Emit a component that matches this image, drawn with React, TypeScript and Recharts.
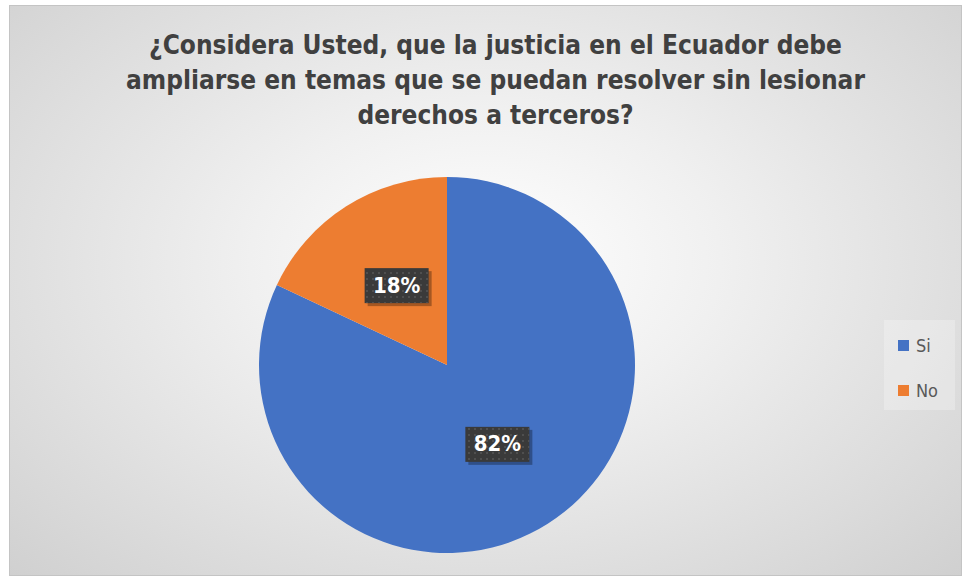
import React from "react";
import { PieChart, Pie, Cell, Legend } from "recharts";

const categories = ["Si", "No"];
const values = [82, 18];
const colors = ["#4472C4", "#ED7D31"];
const titleLines = [
  "¿Considera Usted, que la justicia en el Ecuador debe",
  "ampliarse en temas que se puedan resolver sin lesionar",
  "derechos a terceros?",
];

const data = categories.map((name, i) => ({ name, value: values[i] }));

const FONT = "'DejaVu Sans Condensed', 'Open Sans', sans-serif";
const RAD = Math.PI / 180;

const renderLabel = (props: any) => {
  const { cx, cy, midAngle, outerRadius, value } = props;
  const r = outerRadius * 0.5;
  const x = cx + r * Math.cos(-midAngle * RAD);
  const y = cy + r * Math.sin(-midAngle * RAD);
  const w = 64;
  const h = 35;
  return (
    <g>
      <rect x={x - w / 2 + 3} y={y - h / 2 + 3} width={w} height={h} fill="rgba(0,0,0,0.3)" />
      <rect x={x - w / 2} y={y - h / 2} width={w} height={h} fill="#3a3a3a" />
      <rect x={x - w / 2} y={y - h / 2} width={w} height={h} fill="url(#dots)" />
      <text
        x={x}
        y={y + 1}
        fill="#ffffff"
        textAnchor="middle"
        dominantBaseline="middle"
        fontFamily={FONT}
        fontWeight="bold"
        fontSize={22}
      >
        {`${value}%`}
      </text>
    </g>
  );
};

const renderLegend = () => (
  <div
    style={{
      background: "rgba(255,255,255,0.25)",
      width: 71,
      height: 90,
      boxSizing: "border-box",
      padding: "14px 0 0 14px",
      fontFamily: FONT,
      fontSize: 18,
      color: "#595959",
    }}
  >
    {categories.map((c, i) => (
      <div key={c} style={{ display: "flex", alignItems: "center", height: 22, marginBottom: i === 0 ? 23 : 0 }}>
        <span style={{ display: "inline-block", width: 11, height: 11, background: colors[i], marginRight: 7 }} />
        <span>{c}</span>
      </div>
    ))}
  </div>
);

export default function App() {
  return (
    <div style={{ position: "absolute", left: 0, top: 0, width: 966, height: 579, background: "#ffffff" }}>
      <div
        style={{
          position: "absolute",
          left: 9,
          top: 5,
          width: 953,
          height: 571,
          background: "radial-gradient(ellipse at 50% 45%, #ffffff 0%, #f0f0f0 35%, #d0d0d0 100%)",
          border: "1px solid #c4c4c4",
          boxSizing: "border-box",
        }}
      >
        <div
          style={{
            position: "absolute",
            left: 10,
            top: 22,
            width: 951,
            textAlign: "center",
            fontFamily: FONT,
            fontWeight: "bold",
            fontSize: 26,
            lineHeight: "35px",
            color: "#404040",
          }}
        >
          {titleLines.map((l) => (
            <div key={l}>{l}</div>
          ))}
        </div>
        <div style={{ position: "absolute", left: 0, top: 0 }}>
          <PieChart width={951} height={569}>
            <defs>
              <pattern id="dots" width="6" height="6" patternUnits="userSpaceOnUse">
                <circle cx="3" cy="3" r="1" fill="#555555" />
              </pattern>
            </defs>
            <Pie
              data={data}
              dataKey="value"
              nameKey="name"
              cx={432}
              cy={354}
              outerRadius={188}
              startAngle={90}
              endAngle={-270}
              stroke="none"
              label={renderLabel}
              labelLine={false}
              isAnimationActive={false}
            >
              {data.map((d, i) => (
                <Cell key={d.name} fill={colors[i]} />
              ))}
            </Pie>
            <Legend
              content={renderLegend}
              layout="vertical"
              align="right"
              verticalAlign="top"
              wrapperStyle={{ left: 874, top: 314, width: 71 }}
            />
          </PieChart>
        </div>
      </div>
    </div>
  );
}
